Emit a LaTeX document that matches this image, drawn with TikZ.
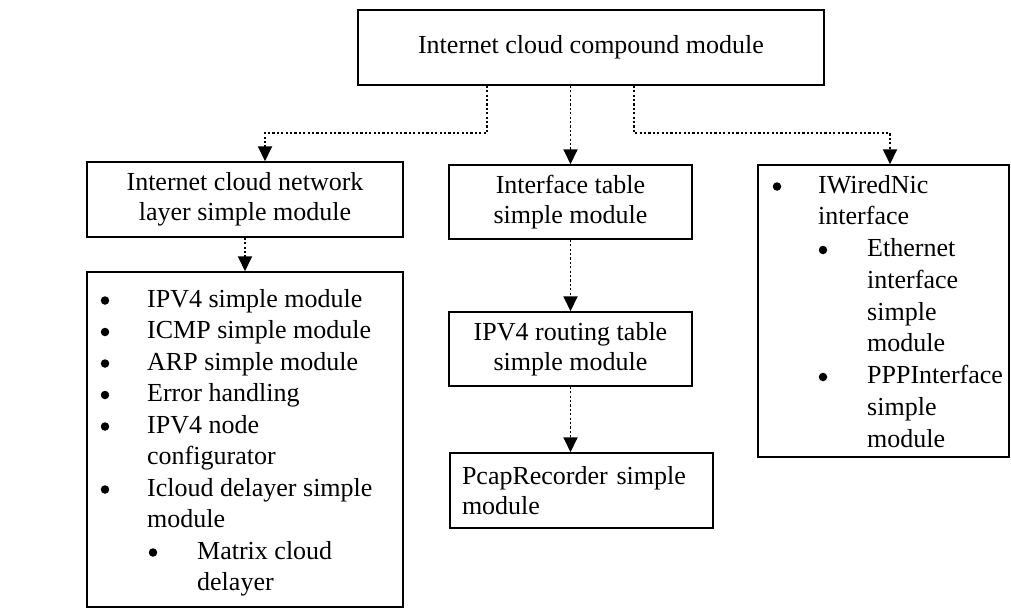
\documentclass[tikz,border=0pt]{standalone}
\usepackage{fontspec}
\setmainfont{Liberation Serif}
\usetikzlibrary{arrows.meta}
\begin{document}
\begin{tikzpicture}[x=1pt,y=-1pt,
  box/.style={draw, line width=1.5pt, inner sep=0pt, align=center,
              font=\fontsize{26}{30}\selectfont},
  conn/.style={line width=1.9pt, dash pattern=on 2.2pt off 2.2pt,
               -{Triangle[width=14pt,length=15pt]}},
  txt/.style={anchor=base west, inner sep=0pt, font=\fontsize{26}{30}\selectfont},
  bul/.style={circle, fill, inner sep=0pt, minimum size=8.5pt}]

  % canvas
  \fill[white] (0,0) rectangle (1011,608);
  \useasboundingbox (0,0) rectangle (1011,608);

  % module boxes
  \node[box, minimum width=466pt, minimum height=75pt] (top) at (591,47.5)
    {Internet cloud compound module};
  \node[box, minimum width=316pt, minimum height=75pt] (net) at (245,199.5)
    {Internet cloud network\\layer simple module};
  \node[box, minimum width=316pt, minimum height=335pt] (netlist) at (245,439.5) {};
  \node[box, minimum width=243pt, minimum height=74pt] (iftable) at (570.5,202)
    {Interface table\\simple module};
  \node[box, minimum width=243pt, minimum height=74pt] (routing) at (570.5,349)
    {IPV4 routing table\\simple module};
  \node[box, align=left, text width=239pt, inner xsep=12pt, minimum height=75pt]
    (pcap) at (581.5,490.5) {PcapRecorder simple\\module};
  \node[box, minimum width=251pt, minimum height=292pt] (nic) at (883.5,311) {};

  % contents of the network layer box
  \foreach \n/\y/\x/\t in {1/307/147/IPV4 simple module,
                           2/338.5/147/ICMP simple module,
                           3/370/147/ARP simple module,
                           4/401.5/147/Error handling,
                           5/433/147/IPV4 node,
                           6/464.5/147/configurator,
                           7/496/147/Icloud delayer simple,
                           8/527.5/147/module,
                           9/559/197/Matrix cloud,
                           10/590.5/197/delayer}
    \node[txt] (nl\n) at (\x,\y) {\t};
  \foreach \n/\x/\y in {1/105/307, 2/105/338.5, 3/105/370, 4/105/401.5,
                        5/105/433, 7/105/496, 9/153/559}
    \node[bul] (nb\n) at (\x,\y-6.5) {};

  % contents of the NIC box
  \foreach \n/\y/\x/\t in {1/193/818/IWiredNic,
                           2/224.75/818/interface,
                           3/256.5/867/Ethernet,
                           4/288.25/867/interface,
                           5/320/867/simple,
                           6/351.75/867/module,
                           7/383.5/867/PPPInterface,
                           8/415.25/867/simple,
                           9/447/867/module}
    \node[txt] (rl\n) at (\x,\y) {\t};
  \foreach \n/\x/\y in {1/777/193, 3/823/256.5, 7/823/383.5}
    \node[bul] (rb\n) at (\x,\y-6.5) {};

  % connectors
  \coordinate (a1) at (487,133);
  \coordinate (a2) at (265,133);
  \coordinate (b1) at (634,133);
  \coordinate (b2) at (890,133);
  \draw[conn] (top.south -| a1) -- (a1) -- (a2) -- (net.north -| a2);
  \draw[conn] (top.south -| iftable.north) -- (iftable.north);
  \draw[conn] (top.south -| b1) -- (b1) -- (b2) -- (nic.north -| b2);
  \draw[conn] (net.south) -- (netlist.north);
  \draw[conn] (iftable.south) -- (routing.north);
  \draw[conn] (routing.south) -- (pcap.north -| routing.south);
\end{tikzpicture}
\end{document}
